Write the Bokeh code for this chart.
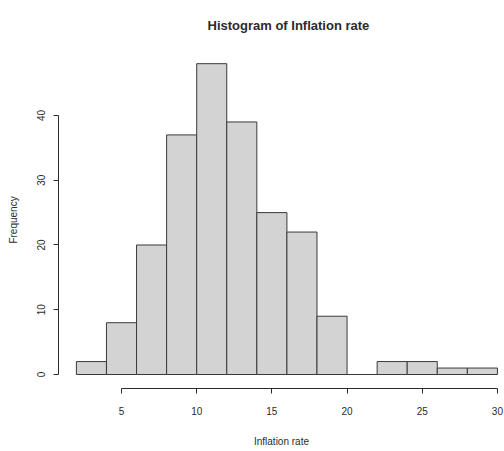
from bokeh.plotting import figure
from bokeh.models import Range1d, FixedTicker
from bokeh.embed import file_html
from bokeh.resources import INLINE

# Histogram bins (width 2) and counts per bin
bin_edges = [2, 4, 6, 8, 10, 12, 14, 16, 18, 20, 22, 24, 26, 28, 30]
frequency = [2, 8, 20, 37, 48, 39, 25, 22, 9, 0, 2, 2, 1, 1]

# Axis tick values
x_ticks = [5, 10, 15, 20, 25, 30]
y_ticks = [0, 10, 20, 30, 40]

FONT = "Liberation Sans"
INK = "#2b2b2b"

p = figure(
    width=504, height=451,
    output_backend="svg", toolbar_location=None,
    x_range=Range1d(0.81, 30.47), y_range=Range1d(-2.16, 49.88),
    min_border_left=58, min_border_right=0,
    min_border_top=51, min_border_bottom=63,
    title="Histogram of Inflation rate",
)
p.background_fill_color = "white"
p.border_fill_color = "white"
p.outline_line_color = None
p.xgrid.visible = False
p.ygrid.visible = False

p.title.text_font = FONT
p.title.text_font_size = "13px"
p.title.text_font_style = "bold"
p.title.text_color = INK
p.title.align = "left"
p.title.vertical_align = "top"
p.title.offset = 149
p.title.standoff = 34

p.quad(left=bin_edges[:-1], right=bin_edges[1:], bottom=0, top=frequency,
       fill_color="#d3d3d3", line_color="#3a3a3a", line_width=1)

for ax in (p.xaxis[0], p.yaxis[0]):
    ax.axis_line_color = INK
    ax.major_tick_line_color = INK
    ax.minor_tick_line_color = None
    ax.major_tick_out = 5
    ax.major_tick_in = 0
    ax.major_label_text_font = FONT
    ax.major_label_text_font_size = "10px"
    ax.major_label_text_color = INK
    ax.axis_label_text_font = FONT
    ax.axis_label_text_font_size = "10px"
    ax.axis_label_text_font_style = "normal"
    ax.axis_label_text_color = INK

xa = p.xaxis[0]
xa.ticker = FixedTicker(ticks=x_ticks)
xa.bounds = (x_ticks[0], x_ticks[-1])
xa.axis_label = "Inflation rate"
xa.major_label_standoff = 13
xa.axis_label_standoff = 18

ya = p.yaxis[0]
ya.ticker = FixedTicker(ticks=y_ticks)
ya.bounds = (y_ticks[0], y_ticks[-1])
ya.axis_label = "Frequency"
ya.major_label_orientation = "vertical"
ya.major_label_standoff = 8
ya.axis_label_standoff = 16

open("out.html", "w").write(file_html(p, INLINE))
